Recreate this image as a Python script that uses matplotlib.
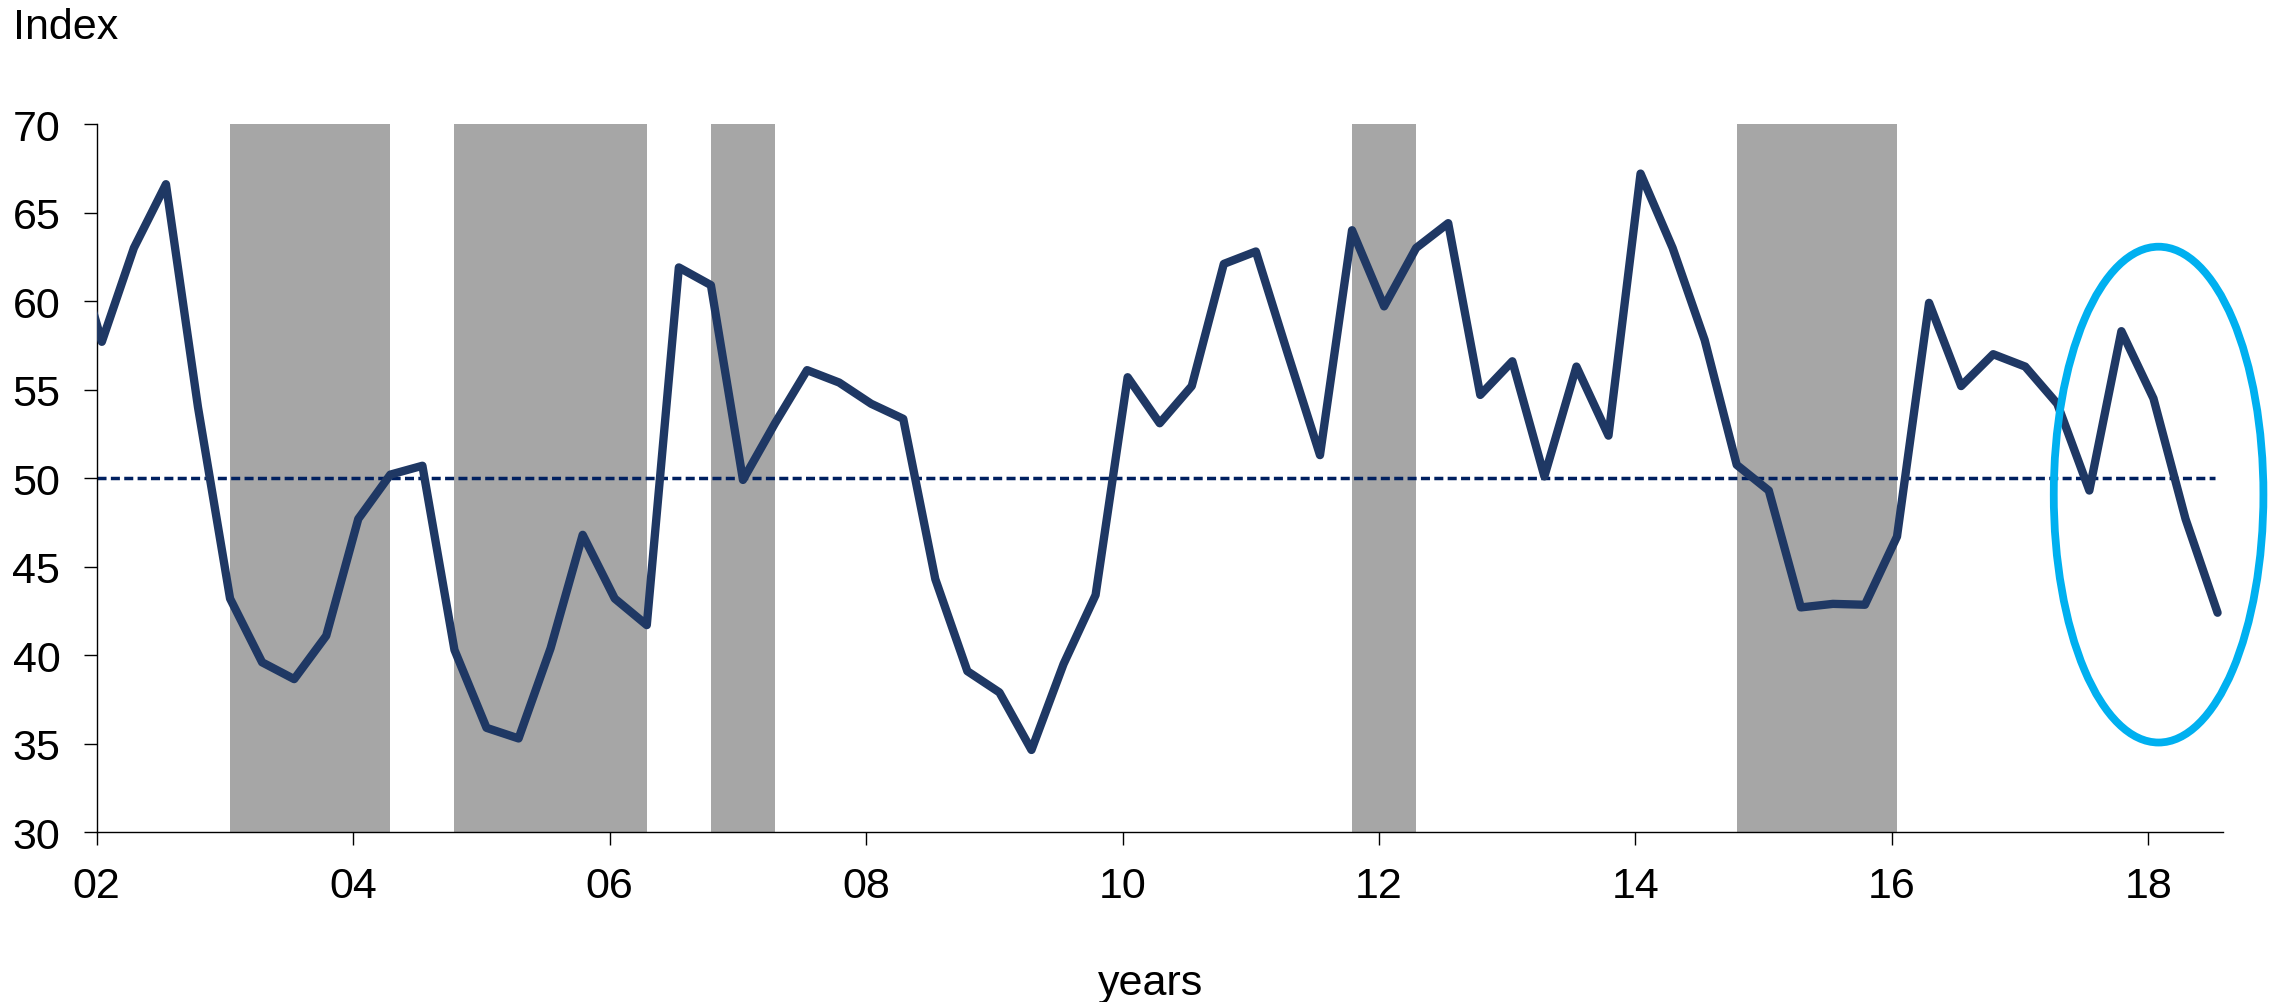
import numpy as np
import matplotlib
matplotlib.use("Agg")
import matplotlib.pyplot as plt
from matplotlib.patches import Ellipse
from matplotlib.ticker import FuncFormatter

plt.rcParams['font.family'] = ['Liberation Sans', 'DejaVu Sans']

# ---- data (quarterly index, first value lies just before the axis start) ----
first_x = 2001.79
step = 0.25
values = [64.0,
          57.7, 63.0, 66.6, 54.0, 43.2, 39.6, 38.65, 41.1, 47.7, 50.2,
          50.7, 40.3, 35.9, 35.3, 40.4, 46.8, 43.2, 41.7, 61.9, 60.9,
          49.9, 53.1, 56.1, 55.4, 54.2, 53.35, 44.3, 39.1, 37.9, 34.65,
          39.5, 43.4, 55.7, 53.1, 55.2, 62.1, 62.8, 57.0, 51.3, 64.0,
          59.7, 63.0, 64.4, 54.7, 56.6, 50.1, 56.3, 52.4, 67.2, 63.0,
          57.8, 50.75, 49.3, 42.7, 42.9, 42.85, 46.7, 59.9, 55.2, 57.0,
          56.3, 54.2, 49.3, 58.3, 54.5, 47.7, 42.4]
x = first_x + step * np.arange(len(values))

shaded = [(2003.04, 2004.29), (2004.79, 2006.29), (2006.79, 2007.29),
          (2011.79, 2012.29), (2014.79, 2016.04)]
threshold = 50
xticks = [2002, 2004, 2006, 2008, 2010, 2012, 2014, 2016, 2018]
yticks = [30, 35, 40, 45, 50, 55, 60, 65, 70]

# ---- figure ----
W, H, DPI = 2277, 1003, 100
FS = 31
fig = plt.figure(figsize=(W / DPI, H / DPI), dpi=DPI)
ax = fig.add_axes([96.7 / W, 1 - 833.3 / H, (2222.7 - 96.7) / W, (833.3 - 125) / H])

for a, b in shaded:
    ax.axvspan(a, b, color='#A6A6A6', lw=0, zorder=1)

ax.hlines(threshold, 2002, 2018.52, colors='#002060', linewidth=2.5,
          linestyles=(0, (2.6, 1.25)), zorder=2)

ax.plot(x, values, color='#1F3864', linewidth=6.0, solid_joinstyle='round',
        solid_capstyle='round', zorder=3)

ell = Ellipse((2018.08, 49.07), 1.635, 28.0, fill=False, edgecolor='#00B0F0',
              linewidth=5.6, clip_on=False, zorder=4)
ax.add_patch(ell)

ax.set_xlim(2002, 2018.58)
ax.set_ylim(30, 70)
ax.set_xticks(xticks)
ax.set_yticks(yticks)
ax.xaxis.set_major_formatter(FuncFormatter(lambda v, p: f"{int(round(v)) % 100:02d}"))

for s in ['top', 'right']:
    ax.spines[s].set_visible(False)
for s in ['left', 'bottom']:
    ax.spines[s].set_linewidth(1.0)
    ax.spines[s].set_color('black')

ax.tick_params(axis='both', direction='out', length=9.2, width=1.0,
               labelsize=FS, colors='black')
ax.tick_params(axis='y', pad=17.0)
ax.tick_params(axis='x', pad=15.0)

fig.text(13 / W, 1 - 39.3 / H, 'Index', fontsize=FS, ha='left', va='baseline')
fig.text(1151 / W, 1 - 995 / H, 'years', fontsize=FS, ha='center', va='baseline')

fig.savefig('out.png', dpi=DPI)
